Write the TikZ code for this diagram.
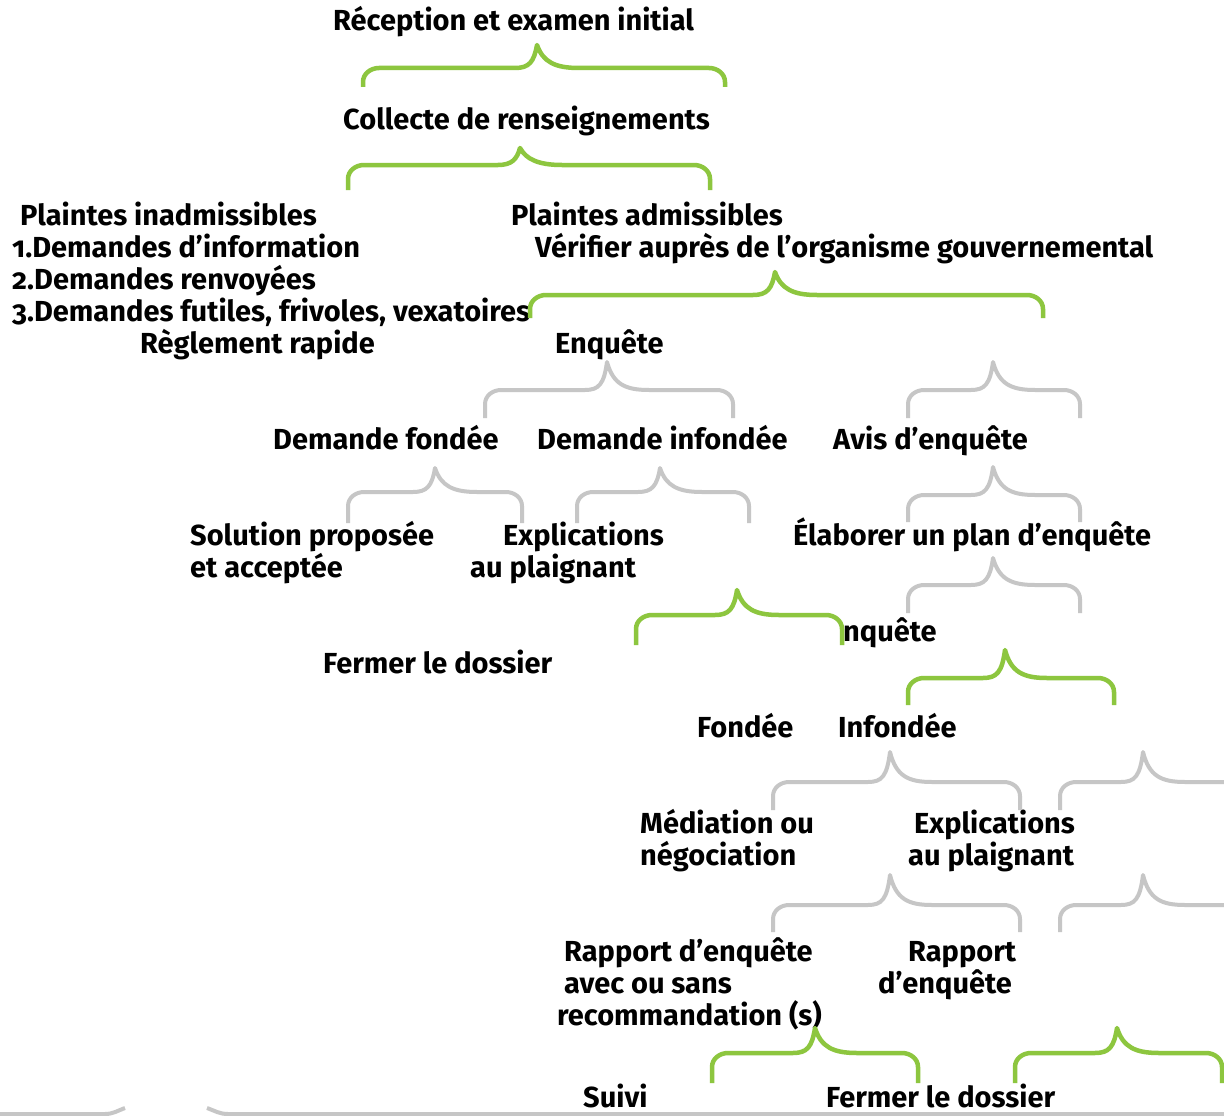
\documentclass[tikz,border=0pt]{standalone}
\usepackage{fontspec}
\setmainfont[Numbers=OldStyle]{Fira Sans}
\usepackage{tikz}
\definecolor{bracegreen}{RGB}{141,198,63}
\definecolor{bracegrey}{RGB}{198,198,198}
\tikzset{lbl/.style={font=\bfseries\fontsize{29}{32}\selectfont, inner sep=0pt, anchor=base west},
         greenbrace/.style={draw=bracegreen, line width=4.5pt, line join=round},
         greybrace/.style={draw=bracegrey, line width=4pt, line join=round}}
% #1 style, #2/#3 left/right leg, #4 bar, #5/#6 tip, #7 leg ends
\newcommand{\curlybrace}[7]{%
  \draw[#1] (#2,#7) -- (#2,#4+14) to[out=90,in=180] (#2+16,#4) -- (#5-22,#4)
    .. controls (#5-8,#4) and (#5-3,#4-6) .. (#5,#6)
    .. controls (#5+6,#4-6) and (#5+18,#4) .. (#5+42,#4)
    -- (#3-16,#4) to[out=0,in=90] (#3,#4+14) -- (#3,#7);}

\begin{document}
\begin{tikzpicture}[x=1pt, y=-1pt]
            \useasboundingbox (0,0) rectangle (1224,1116);
            \fill[white] (0,0) rectangle (1224,1116);
            \clip (0,0) rectangle (1224,1116);
            % bottom rule
            \draw[greybrace] (-5,1114) -- (105,1114) to[out=0,in=200] (125,1108);
            \draw[greybrace] (207,1108) to[out=-20,in=180] (228,1114) -- (1230,1114);
            % first steps
            \node[lbl] (recep) at (333, 31) {Réception et examen initial};
            \node[lbl] (collecte) at (343, 129) {Collecte de renseignements};
            \node[lbl] (inadm) at (20, 225) {Plaintes inadmissibles};
            \node[lbl] (info) at (12, 257) {1.Demandes d’information};
            \node[lbl] (renv) at (12, 289) {2.Demandes renvoyées};
            \node[lbl] (futil) at (12, 321) {3.Demandes futiles, frivoles, vexatoires};
            \node[lbl] (reglement) at (140, 353) {Règlement rapide};
            \node[lbl] (adm) at (511, 225) {Plaintes admissibles};
            \node[lbl] (verif) at (535, 257) {Vérifier auprès de l’organisme gouvernemental};
            \node[lbl] (enquete) at (555, 353) {Enquête};
            % quick settlement and investigation
            \node[lbl] (fondee) at (273, 449) {Demande fondée};
            \node[lbl] (infondee) at (537, 449) {Demande infondée};
            \node[lbl] (avis) at (833, 449) {Avis d’enquête};
            \node[lbl] (sol) at (190, 545) {Solution proposée};
            \node[lbl] (solb) at (190, 577) {et acceptée};
            \node[lbl] (expl) at (503, 545) {Explications};
            \node[lbl] (explb) at (470, 577) {au plaignant};
            \node[lbl] (plan) at (793, 545) {Élaborer un plan d’enquête};
            \node[lbl] (nquete) at (843, 641) {nquête};
            \node[lbl] (fermer) at (323, 673) {Fermer le dossier};
            \node[lbl] (fond) at (697, 737) {Fondée};
            \node[lbl] (infond) at (838, 737) {Infondée};
            \node[lbl] (med) at (640, 833) {Médiation ou};
            \node[lbl] (medb) at (640, 865) {négociation};
            \node[lbl] (explic) at (914, 833) {Explications};
            \node[lbl] (explicb) at (908, 865) {au plaignant};
            \node[lbl] (rapp) at (564, 961) {Rapport d’enquête};
            \node[lbl] (rappb) at (564, 993) {avec ou sans};
            \node[lbl] (rappc) at (557, 1025) {recommandation (s)};
            \node[lbl] (rapport) at (908, 961) {Rapport};
            \node[lbl] (rapportb) at (878, 993) {d’enquête};
            \node[lbl] (suivi) at (583, 1107) {Suivi};
            \node[lbl] (fermerb) at (826, 1107) {Fermer le dossier};
            % green braces
            \curlybrace{greenbrace}{363}{725}{68}{537}{45}{87}
            \curlybrace{greenbrace}{348}{710}{165}{520}{148}{190}
            \curlybrace{greenbrace}{530}{1043}{295}{775}{272}{318}
            \curlybrace{greenbrace}{636}{842}{615}{737}{590}{645}
            \curlybrace{greenbrace}{908}{1114}{678}{1005}{650}{705}
            \curlybrace{greenbrace}{712}{918}{1053}{815}{1028}{1083}
            \curlybrace{greenbrace}{1015}{1222}{1053}{1117}{1028}{1083}
            % grey braces
            \foreach \xa/\xb/\yb/\xt/\yt/\ye in {485/733/390/607/362/418, 908/1080/390/993/362/418,
                348/522/492/435/468/523, 577/749/492/660/468/523, 908/1080/495/993/467/522,
                908/1080/585/993/558/613, 773/1020/782/890/752/810, 1060/1260/782/1143/752/810,
                773/1020/905/890/875/932, 1060/1260/905/1143/875/932} {
                \curlybrace{greybrace}{\xa}{\xb}{\yb}{\xt}{\yt}{\ye}
            }
        \end{tikzpicture}
\end{document}
